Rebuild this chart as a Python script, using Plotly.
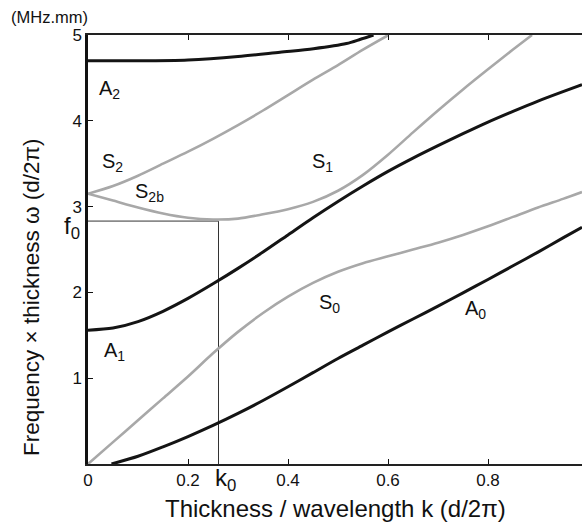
import plotly.graph_objects as go

# Dispersion curves (k, f)
A0_k = [0.047, 0.1, 0.15, 0.2, 0.25, 0.3, 0.35, 0.4, 0.45, 0.5, 0.55, 0.6, 0.65, 0.7, 0.75, 0.8, 0.85, 0.9, 0.95, 0.988]
A0_f = [0.0, 0.09, 0.20, 0.32, 0.45, 0.59, 0.74, 0.90, 1.065, 1.23, 1.385, 1.54, 1.69, 1.84, 1.995, 2.15, 2.31, 2.47, 2.635, 2.76]

S0_k = [0.0, 0.05, 0.1, 0.15, 0.2, 0.25, 0.3, 0.35, 0.4, 0.45, 0.5, 0.55, 0.6, 0.65, 0.7, 0.75, 0.8, 0.85, 0.9, 0.95, 0.988]
S0_f = [0.0, 0.255, 0.51, 0.765, 1.02, 1.29, 1.54, 1.76, 1.95, 2.11, 2.24, 2.34, 2.42, 2.50, 2.58, 2.67, 2.77, 2.88, 2.99, 3.09, 3.17]

A1_k = [0.0, 0.05, 0.1, 0.15, 0.2, 0.25, 0.3, 0.35, 0.4, 0.45, 0.5, 0.55, 0.6, 0.65, 0.7, 0.75, 0.8, 0.85, 0.9, 0.95, 0.988]
A1_f = [1.56, 1.585, 1.66, 1.78, 1.93, 2.10, 2.28, 2.47, 2.67, 2.87, 3.06, 3.24, 3.41, 3.565, 3.71, 3.85, 3.985, 4.11, 4.23, 4.34, 4.42]

S1_k = [0.0, 0.05, 0.1, 0.15, 0.2, 0.25, 0.3, 0.35, 0.4, 0.45, 0.5, 0.55, 0.6, 0.65, 0.7, 0.75, 0.8, 0.85, 0.888]
S1_f = [3.15, 3.07, 2.99, 2.92, 2.87, 2.85, 2.86, 2.91, 2.97, 3.055, 3.185, 3.37, 3.605, 3.865, 4.12, 4.365, 4.60, 4.83, 5.0]

S2_k = [0.0, 0.05, 0.1, 0.15, 0.2, 0.25, 0.3, 0.35, 0.4, 0.45, 0.5, 0.55, 0.601]
S2_f = [3.15, 3.24, 3.36, 3.50, 3.64, 3.79, 3.95, 4.12, 4.30, 4.48, 4.65, 4.83, 5.0]

A2_k = [0.0, 0.1, 0.2, 0.3, 0.384, 0.451, 0.517, 0.545, 0.571]
A2_f = [4.70, 4.70, 4.71, 4.75, 4.80, 4.84, 4.90, 4.95, 5.0]

k0 = 0.261
f0 = 2.83

x_ticks = [0, 0.2, 0.4, 0.6, 0.8]
x_tick_labels = ["0", "0.2", "0.4", "0.6", "0.8"]
y_ticks = [1, 2, 3, 4, 5]
y_tick_labels = ["1", "2", "3", "4", "5"]

BLACK = "#141414"
GRAY = "#a8a8a8"
FONT = "Liberation Sans, Arial, sans-serif"

fig = go.Figure()

# guide lines for k0 / f0
fig.add_trace(go.Scatter(x=[0, k0], y=[f0, f0], mode="lines",
                         line=dict(color="#8a8a8a", width=1.8), hoverinfo="skip"))
fig.add_trace(go.Scatter(x=[k0, k0], y=[0, f0], mode="lines",
                         line=dict(color="#333333", width=1), hoverinfo="skip"))

for kk, ff, col, w in [(S0_k, S0_f, GRAY, 2.6), (S1_k, S1_f, GRAY, 2.6), (S2_k, S2_f, GRAY, 2.6),
                       (A0_k, A0_f, BLACK, 3), (A1_k, A1_f, BLACK, 3), (A2_k, A2_f, BLACK, 3)]:
    fig.add_trace(go.Scatter(x=kk, y=ff, mode="lines",
                             line=dict(color=col, width=w, shape="spline", smoothing=0.8)))

labels = [
    ("A<sub>2</sub>", 0.018, 4.37),
    ("S<sub>2</sub>", 0.024, 3.51),
    ("S<sub>2b</sub>", 0.09, 3.16),
    ("S<sub>1</sub>", 0.444, 3.51),
    ("A<sub>1</sub>", 0.028, 1.31),
    ("S<sub>0</sub>", 0.458, 1.87),
    ("A<sub>0</sub>", 0.75, 1.80),
]
for txt, x, y in labels:
    fig.add_annotation(x=x, y=y, text=txt, showarrow=False, xanchor="left", yanchor="middle",
                       font=dict(family=FONT, size=20, color="#111"))

fig.add_annotation(x=k0, y=0, xshift=-6, yshift=-15, xanchor="left", yanchor="middle",
                   text="k<sub>0</sub>", showarrow=False,
                   font=dict(family=FONT, size=24, color="#111"))
fig.add_annotation(x=0, xshift=-26, y=f0, yshift=-6, xanchor="left", yanchor="middle",
                   text="f<sub>0</sub>", showarrow=False,
                   font=dict(family=FONT, size=24, color="#111"))
fig.add_annotation(xref="paper", yref="paper", x=(9 - 88) / 494, y=1, yshift=18, xanchor="left",
                   yanchor="middle", text="(MHz.mm)", showarrow=False,
                   font=dict(family=FONT, size=16.5, color="#111"))
fig.add_annotation(xref="paper", yref="paper", x=0.5, y=0, yshift=-44, xanchor="center",
                   yanchor="middle", text="Thickness / wavelength k (d/2π)", showarrow=False,
                   font=dict(family=FONT, size=24, color="#111"))
fig.add_annotation(xref="paper", yref="paper", x=0, xshift=-57, y=(464 - 266) / 429, yshift=-31,
                   xanchor="center", yanchor="middle", textangle=-90,
                   text="Frequency × thickness ω (d/2π)",
                   showarrow=False, font=dict(family=FONT, size=22.5, color="#111"))

fig.update_layout(
    width=582, height=522,
    margin=dict(l=88, r=0, t=35, b=58),
    paper_bgcolor="white", plot_bgcolor="white",
    showlegend=False,
    font=dict(family=FONT, size=17, color="#111"),
    xaxis=dict(range=[0, 0.988], tickvals=x_ticks, ticktext=x_tick_labels, ticks="inside",
               ticklen=5, tickcolor="#111", showgrid=False, zeroline=False, showline=True,
               linecolor="#222", linewidth=2, mirror="ticks", tickfont=dict(size=17)),
    yaxis=dict(range=[0, 5], tickvals=y_ticks, ticktext=y_tick_labels, ticks="inside",
               ticklen=5, tickcolor="#111", showgrid=False, zeroline=False, showline=True,
               linecolor="#111", linewidth=2.5, tickfont=dict(size=17)),
)

fig.write_html("out.html")
